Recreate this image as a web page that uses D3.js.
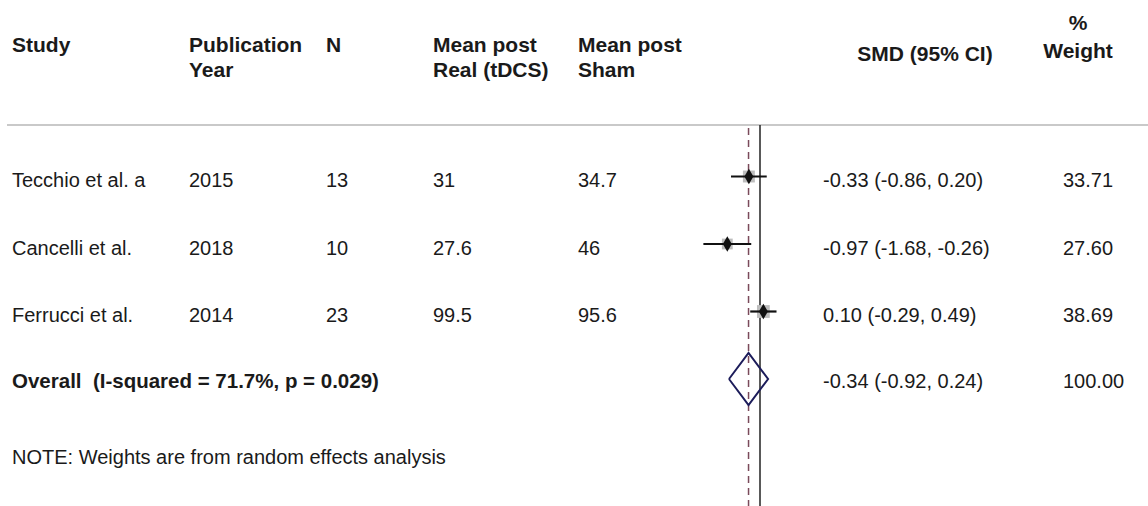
<!DOCTYPE html>
<html>
<head>
<meta charset="utf-8">
<script src="https://cdn.jsdelivr.net/npm/d3@7"></script>
<style>
  body { margin: 0; background: #fff; }
  text { font-family: "Liberation Sans", Arial, sans-serif; fill: #1a1a1a; white-space: pre; }
  .hdr { font-weight: bold; font-size: 21px; }
  .cell { font-size: 20px; }
</style>
</head>
<body>
<div id="forest"></div>
<script>
var svgWidth = 1148;
var svgHeight = 506;

// study rows
var studies = ["Tecchio et al. a", "Cancelli et al.", "Ferrucci et al."];
var years = [2015, 2018, 2014];
var nVals = [13, 10, 23];
var meanReal = ["31", "27.6", "99.5"];
var meanSham = ["34.7", "46", "95.6"];
var smd = [-0.33, -0.97, 0.10];
var ciLow = [-0.86, -1.68, -0.29];
var ciHigh = [0.20, -0.26, 0.49];
var weights = [33.71, 27.60, 38.69];

// pooled estimate
var overall = {label: "Overall  (I-squared = 71.7%, p = 0.029)", est: -0.34, lo: -0.92, hi: 0.24, weight: 100.00};
var noteText = "NOTE: Weights are from random effects analysis";

var cols = {study: 12, year: 189, n: 326, real: 433, sham: 578, smd: 823, weight: 1063};

var svg = d3.select("#forest")
  .append("svg")
  .attr("width", svgWidth)
  .attr("height", svgHeight);

var xScale = d3.scaleLinear().domain([-1, 0]).range([726.3, 760]);
var yScale = d3.scaleLinear().domain([0, 3]).range([176.5, 379]);

function fmt(v) { return v.toFixed(2); }
function ciText(e, l, h) { return fmt(e) + " (" + fmt(l) + ", " + fmt(h) + ")"; }

// header
var hdr = svg.append("g").attr("class", "hdr");
function headText(x, y, t, anchor) {
  hdr.append("text").attr("x", x).attr("y", y).attr("text-anchor", anchor || "start").text(t);
}
headText(cols.study, 52, "Study");
headText(cols.year, 52, "Publication");
headText(cols.year, 77, "Year");
headText(cols.n, 52, "N");
headText(cols.real, 52, "Mean post");
headText(cols.real, 77, "Real (tDCS)");
headText(cols.sham, 52, "Mean post");
headText(cols.sham, 77, "Sham");
headText(925, 61, "SMD (95% CI)", "middle");
headText(1078, 30, "%", "middle");
headText(1078, 58, "Weight", "middle");

svg.append("line")
  .attr("x1", 7).attr("x2", svgWidth)
  .attr("y1", 125).attr("y2", 125)
  .attr("stroke", "#c9c9c9").attr("stroke-width", 2);

// reference lines
svg.append("line")
  .attr("x1", xScale(0)).attr("x2", xScale(0))
  .attr("y1", 125).attr("y2", svgHeight)
  .attr("stroke", "#222").attr("stroke-width", 1.5);

svg.append("line")
  .attr("x1", xScale(overall.est)).attr("x2", xScale(overall.est))
  .attr("y1", 128).attr("y2", svgHeight)
  .attr("stroke", "#7a4a5a").attr("stroke-width", 1.5)
  .attr("stroke-dasharray", "7,5");

// rows of text
var rows = svg.append("g").attr("class", "cell");
studies.forEach(function(s, i) {
  var y = yScale(i) + 10.5;
  rows.append("text").attr("x", cols.study).attr("y", y).text(s);
  rows.append("text").attr("x", cols.year).attr("y", y).text(years[i]);
  rows.append("text").attr("x", cols.n).attr("y", y).text(nVals[i]);
  rows.append("text").attr("x", cols.real).attr("y", y).text(meanReal[i]);
  rows.append("text").attr("x", cols.sham).attr("y", y).text(meanSham[i]);
  rows.append("text").attr("x", cols.smd).attr("y", y).text(ciText(smd[i], ciLow[i], ciHigh[i]));
  rows.append("text").attr("x", cols.weight).attr("y", y).text(fmt(weights[i]));
});

var oy = yScale(3) + 9;
rows.append("text").attr("x", cols.study).attr("y", oy)
  .style("font-weight", "bold").style("font-size", "20.5px").text(overall.label);
rows.append("text").attr("x", cols.smd).attr("y", oy).text(ciText(overall.est, overall.lo, overall.hi));
rows.append("text").attr("x", cols.weight).attr("y", oy).text(fmt(overall.weight));

rows.append("text").attr("x", cols.study).attr("y", 464).text(noteText);

// forest marks
var boxSize = d3.scaleSqrt().domain([0, 40]).range([0, 13]);

var marks = svg.append("g");
marks.selectAll("rect.box")
  .data(smd)
  .enter()
  .append("rect")
  .attr("class", "box")
  .attr("x", (d, i) => xScale(d) - boxSize(weights[i]) / 2)
  .attr("y", (d, i) => yScale(i) - boxSize(weights[i]) / 2)
  .attr("width", (d, i) => boxSize(weights[i]))
  .attr("height", (d, i) => boxSize(weights[i]))
  .attr("fill", "#bdbdbd");

marks.selectAll("line.ci")
  .data(smd)
  .enter()
  .append("line")
  .attr("class", "ci")
  .attr("x1", (d, i) => xScale(ciLow[i]))
  .attr("x2", (d, i) => xScale(ciHigh[i]))
  .attr("y1", (d, i) => yScale(i))
  .attr("y2", (d, i) => yScale(i))
  .attr("stroke", "#111").attr("stroke-width", 2.2);

marks.selectAll("path.pt")
  .data(smd)
  .enter()
  .append("path")
  .attr("class", "pt")
  .attr("d", d3.symbol().type(d3.symbolDiamond).size(70))
  .attr("transform", (d, i) => "translate(" + xScale(d) + "," + yScale(i) + ")")
  .attr("fill", "#111");

// pooled diamond
var dy = yScale(3);
var dh = 26;
svg.append("path")
  .attr("d", d3.line()([
    [xScale(overall.lo), dy],
    [xScale(overall.est), dy - dh],
    [xScale(overall.hi), dy],
    [xScale(overall.est), dy + dh],
    [xScale(overall.lo), dy]
  ]))
  .attr("fill", "none")
  .attr("stroke", "#1c1c5a").attr("stroke-width", 2);
</script>
</body>
</html>
